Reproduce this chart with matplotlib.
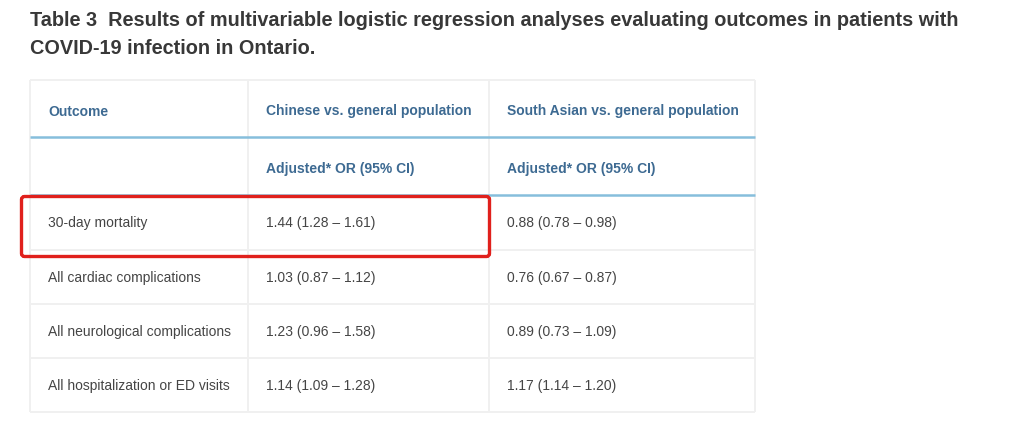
import matplotlib
matplotlib.use("Agg")
import matplotlib.pyplot as plt
from matplotlib.patches import FancyBboxPatch

title_lines = [
    "Table 3  Results of multivariable logistic regression analyses evaluating outcomes in patients with",
    "COVID-19 infection in Ontario.",
]
col_headers = ["Outcome", "Chinese vs. general population", "South Asian vs. general population"]
sub_headers = ["", "Adjusted* OR (95% CI)", "Adjusted* OR (95% CI)"]
outcomes = [
    "30-day mortality",
    "All cardiac complications",
    "All neurological complications",
    "All hospitalization or ED visits",
]
chinese = ["1.44 (1.28 \u2013 1.61)", "1.03 (0.87 \u2013 1.12)",
           "1.23 (0.96 \u2013 1.58)", "1.14 (1.09 \u2013 1.28)"]
south_asian = ["0.88 (0.78 \u2013 0.98)", "0.76 (0.67 \u2013 0.87)",
               "0.89 (0.73 \u2013 1.09)", "1.17 (1.14 \u2013 1.20)"]

plt.rcParams['font.family'] = ['Liberation Sans', 'DejaVu Sans']

fig = plt.figure(figsize=(10.2, 4.3), dpi=100)
ax = fig.add_axes([0, 0, 1, 1])
ax.set_xlim(0, 1020)
ax.set_ylim(430, 0)
ax.axis('off')

# title
ax.text(30, 21, title_lines[0], fontsize=14.3, fontweight='bold', color='#383838', va='center', ha='left')
ax.text(30, 49, title_lines[1], fontsize=14.3, fontweight='bold', color='#383838', va='center', ha='left')

col_edges = [30, 248, 489, 755]
row_edges = [80, 137, 195, 250, 304, 358, 412]
text_pad = 18
grid_c = '#f0f0f0'
blue_c = '#86bedc'
head_c = '#3d6a92'
body_c = '#454545'

# vertical lines
for x in col_edges:
    ax.plot([x, x], [row_edges[0], row_edges[-1]], color=grid_c, lw=1.4, solid_capstyle='butt')
# horizontal lines
for i, y in enumerate(row_edges):
    if i in (1, 2):
        ax.plot([col_edges[0], col_edges[-1]], [y, y], color=blue_c, lw=1.8, solid_capstyle='butt', zorder=3)
    else:
        ax.plot([col_edges[0], col_edges[-1]], [y, y], color=grid_c, lw=1.4, solid_capstyle='butt')

def center(i):
    return (row_edges[i] + row_edges[i + 1]) / 2

for j, h in enumerate(col_headers):
    ax.text(col_edges[j] + text_pad, center(0) + 3, h, fontsize=10, fontweight='bold', color=head_c, va='center')
for j, h in enumerate(sub_headers):
    ax.text(col_edges[j] + text_pad, center(1) + 3, h, fontsize=10, fontweight='bold', color=head_c, va='center')

for r, (o, c, s) in enumerate(zip(outcomes, chinese, south_asian)):
    yc = center(r + 2)
    for j, t in enumerate([o, c, s]):
        ax.text(col_edges[j] + text_pad, yc + 1, t, fontsize=10, color=body_c, va='center')

# red highlight box around first data row (first two columns)
rect = FancyBboxPatch((21.5, 196.5), 468, 60, boxstyle='round,pad=0,rounding_size=3',
                      fill=False, edgecolor='#e0201c', lw=2.4, zorder=5)
ax.add_patch(rect)

fig.savefig('out.png', dpi=100, facecolor='white')
